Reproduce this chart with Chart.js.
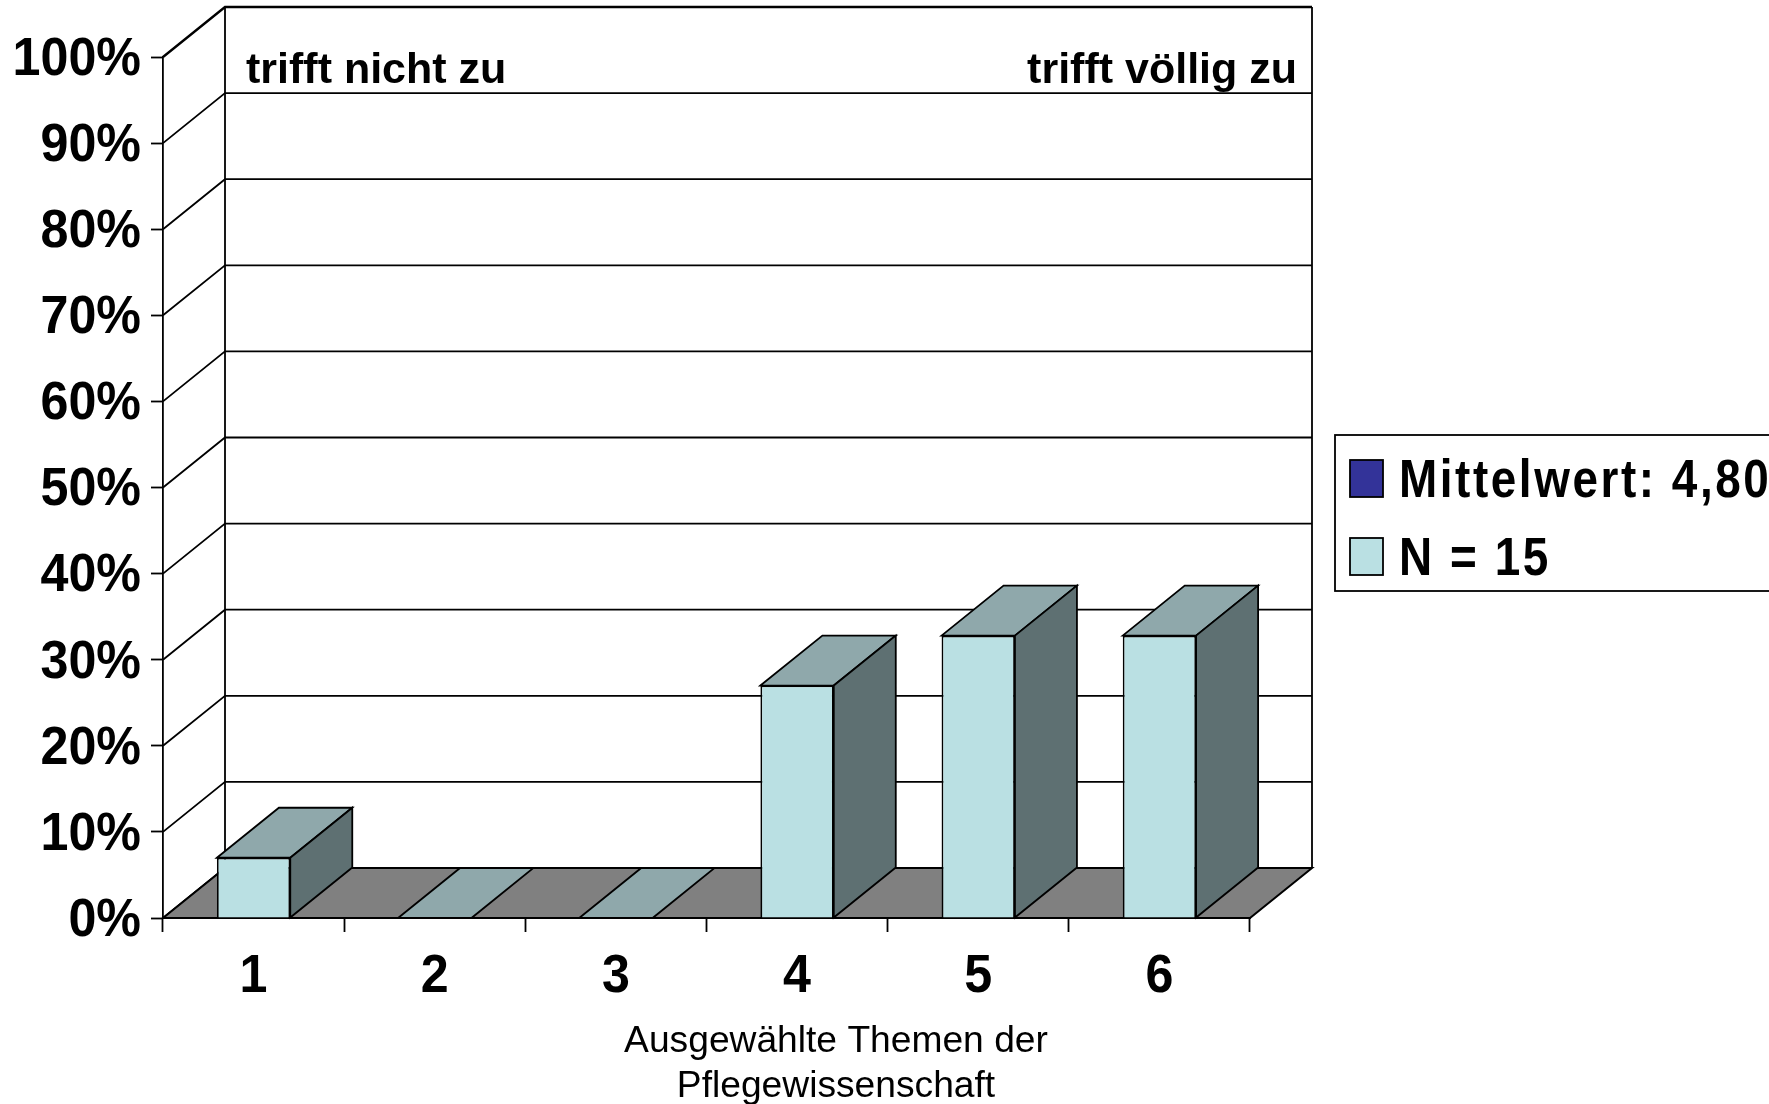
<!DOCTYPE html>
<html>
<head>
<meta charset="utf-8">
<style>
  body { margin: 0; background: #fff; overflow: hidden; }
  canvas { display: block; }
</style>
<script src="https://cdn.jsdelivr.net/npm/chart.js@4/dist/chart.umd.min.js"></script>
</head>
<body>
<canvas id="chart" width="1769" height="1104"></canvas>
<script>
const categories = ['1', '2', '3', '4', '5', '6'];
const shares = [7, 0, 0, 27, 32.8, 32.8];
const meanLabel = 'Mittelwert: 4,80';
const countLabel = 'N = 15';
const leftNote = 'trifft nicht zu';
const rightNote = 'trifft völlig zu';
const axisTitle = ['Ausgewählte Themen der', 'Pflegewissenschaft'];

const arial = '"Liberation Sans", Arial, sans-serif';
const depthX = 62;
const depthY = 50;

function poly(ctx, pts, fill, width) {
  ctx.beginPath();
  pts.forEach((p, i) => i ? ctx.lineTo(p[0], p[1]) : ctx.moveTo(p[0], p[1]));
  ctx.closePath();
  if (fill) { ctx.fillStyle = fill; ctx.fill(); }
  ctx.lineWidth = width || 1.8;
  ctx.strokeStyle = '#000';
  ctx.stroke();
}

// reference type is a squeezed bold Arial, no narrow face here so scale it
function squeezed(ctx, text, x, y, align, sx, gap) {
  ctx.save();
  ctx.translate(x, y);
  ctx.scale(sx, 1);
  ctx.font = 'bold 54px ' + arial;
  ctx.letterSpacing = gap + 'px';
  ctx.textAlign = align;
  ctx.textBaseline = 'middle';
  ctx.fillStyle = '#000';
  ctx.fillText(text, 0, 0);
  ctx.restore();
}

// 3d look: back wall + floor under the bars, top and side faces on them
const box3d = {
  id: 'box3d',
  beforeDatasetsDraw(chart) {
    const ctx = chart.ctx;
    const y = chart.scales.y;
    const a = chart.chartArea;
    ctx.save();
    ctx.strokeStyle = '#000';
    y.ticks.forEach(t => {
      const py = y.getPixelForValue(t.value);
      ctx.lineWidth = t.value === 100 ? 2.4 : 1.8;
      ctx.beginPath();
      ctx.moveTo(a.left, py);
      ctx.lineTo(a.left + depthX, py - depthY);
      ctx.lineTo(a.right + depthX, py - depthY);
      ctx.stroke();
    });
    ctx.lineWidth = 1.8;
    ctx.beginPath();
    ctx.moveTo(a.left + depthX, a.top - depthY);
    ctx.lineTo(a.left + depthX, a.bottom - depthY);
    ctx.moveTo(a.right + depthX, a.top - depthY);
    ctx.lineTo(a.right + depthX, a.bottom - depthY);
    ctx.stroke();
    poly(ctx, [
      [a.left, a.bottom], [a.left + depthX, a.bottom - depthY],
      [a.right + depthX, a.bottom - depthY], [a.right, a.bottom]
    ], '#808080', 2);
    ctx.restore();
  },
  afterDatasetsDraw(chart) {
    const ctx = chart.ctx;
    const bars = chart.getDatasetMeta(1).data;
    ctx.save();
    bars.forEach(b => {
      const l = b.x - b.width / 2;
      const r = b.x + b.width / 2;
      poly(ctx, [[l, b.y], [l + depthX, b.y - depthY], [r + depthX, b.y - depthY], [r, b.y]], '#8FA8AB');
      if (b.base - b.y > 1) {
        poly(ctx, [[r, b.y], [r + depthX, b.y - depthY], [r + depthX, b.base - depthY], [r, b.base]], '#5E7072');
      }
    });
    ctx.restore();
  },
  afterDraw(chart) {
    const ctx = chart.ctx;
    const xs = chart.scales.x;
    const ys = chart.scales.y;
    ctx.save();

    // tick labels, positions from the scales
    ys.ticks.forEach(t => {
      squeezed(ctx, t.value + '%', 141, ys.getPixelForValue(t.value) + 3, 'right', 0.93, 0);
    });
    categories.forEach((c, i) => {
      squeezed(ctx, c, xs.getPixelForTick(i), 977, 'center', 0.93, 0);
    });

    // notes inside the wall
    ctx.fillStyle = '#000';
    ctx.font = 'bold 43px ' + arial;
    ctx.textBaseline = 'alphabetic';
    ctx.textAlign = 'left';
    ctx.fillText(leftNote, 246, 83);
    ctx.textAlign = 'right';
    ctx.fillText(rightNote, 1297, 83);

    // axis title sits off-centre in the original
    ctx.font = '37.2px ' + arial;
    ctx.textAlign = 'center';
    axisTitle.forEach((line, i) => ctx.fillText(line, 836, 1052 + i * 45));

    // legend, runs off the right edge like the reference
    ctx.lineWidth = 1.8;
    ctx.strokeStyle = '#000';
    ctx.strokeRect(1335, 435, 450, 156);
    chart.data.datasets.forEach((ds, i) => {
      const top = 460 + i * 78;
      ctx.fillStyle = ds.backgroundColor;
      ctx.fillRect(1350, top, 33, 37);
      ctx.strokeRect(1350, top, 33, 37);
      squeezed(ctx, ds.label, 1399, top + 22, 'left', 0.85, 3);
    });
    ctx.restore();
  }
};

new Chart(document.getElementById('chart'), {
  type: 'bar',
  data: {
    labels: categories,
    datasets: [
      { label: meanLabel, data: [], backgroundColor: '#333399', grouped: false },
      {
        label: countLabel,
        data: shares,
        backgroundColor: '#BAE0E3',
        borderColor: '#000',
        borderWidth: 1.8,
        grouped: false,
        categoryPercentage: 1,
        barPercentage: 0.405
      }
    ]
  },
  options: {
    responsive: false,
    animation: false,
    layout: { padding: { left: 0, right: 519, top: 57, bottom: 0 } },
    plugins: { legend: { display: false }, tooltip: { enabled: false } },
    scales: {
      x: {
        afterFit(scale) { scale.height = 186; },
        grid: { drawOnChartArea: false, color: '#000', tickLength: 14, tickWidth: 1.8, offset: true },
        border: { color: '#000', width: 2 },
        ticks: { display: false }
      },
      y: {
        min: 0,
        max: 100,
        afterFit(scale) { scale.width = 163; },
        grid: { drawOnChartArea: false, color: '#000', tickLength: 12, tickWidth: 1.8 },
        border: { color: '#000', width: 1.8 },
        ticks: { display: false, stepSize: 10 }
      }
    }
  },
  plugins: [box3d]
});
</script>
</body>
</html>
